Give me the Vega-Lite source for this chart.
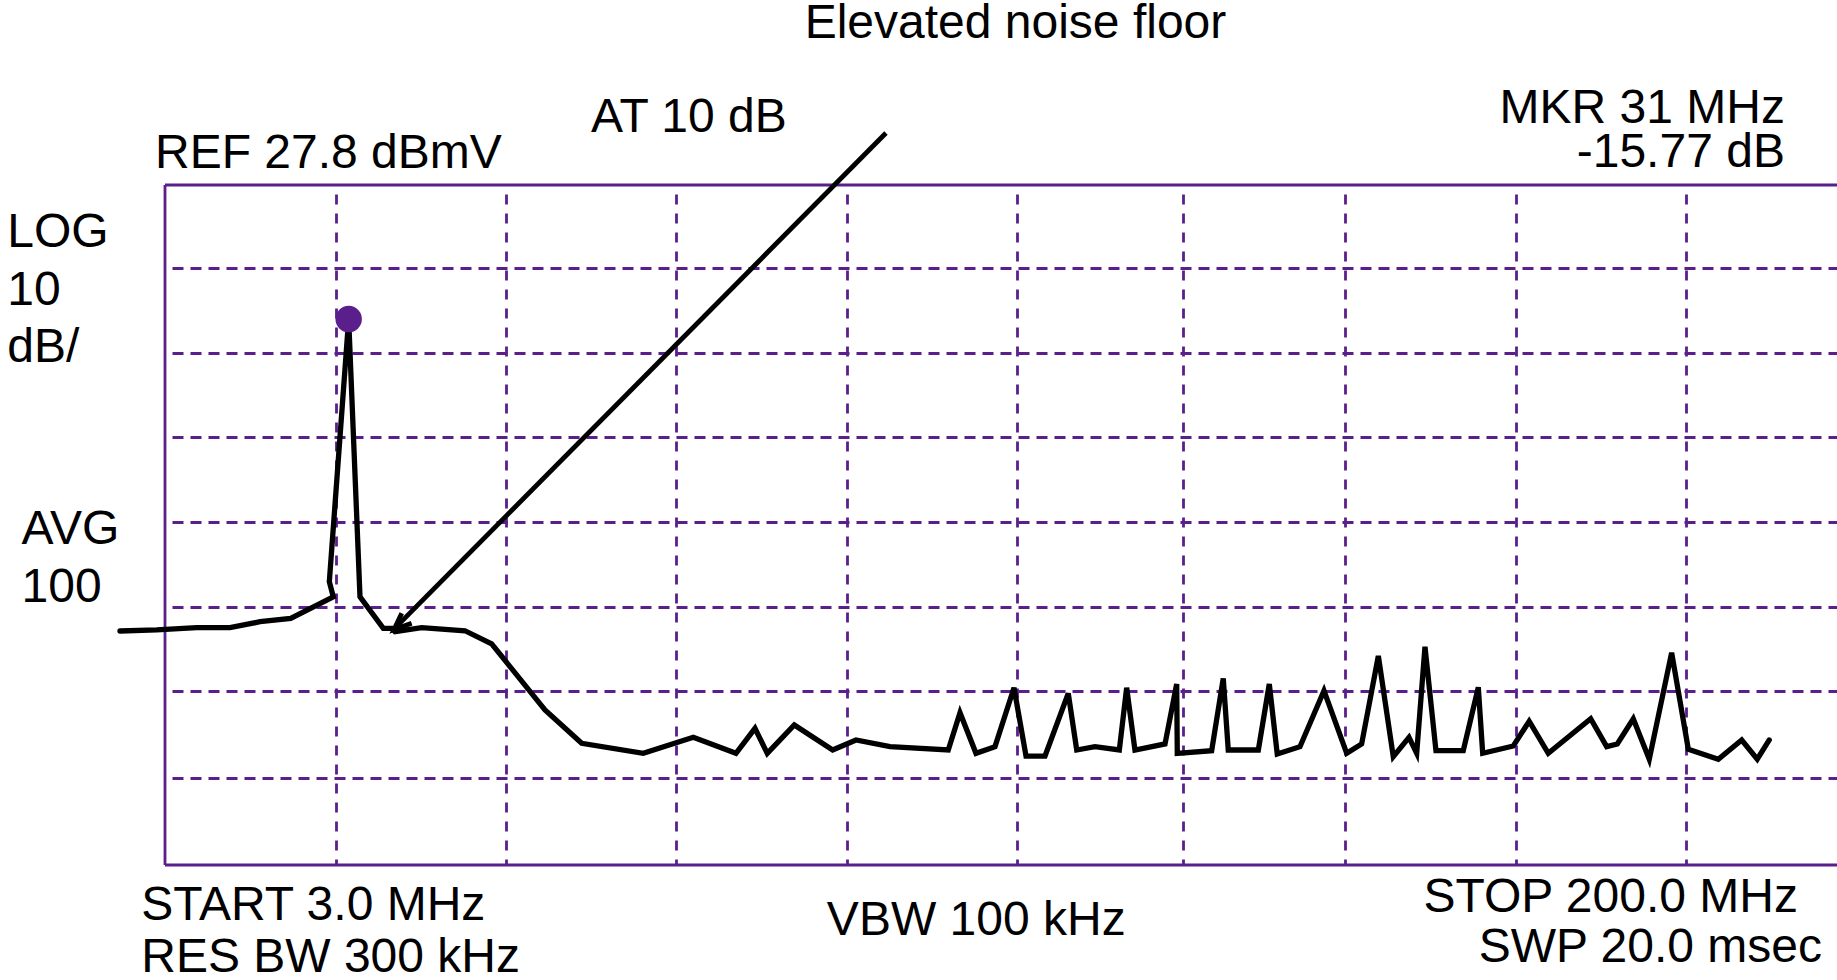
{
  "$schema": "https://vega.github.io/schema/vega-lite/v6.json",
  "width": 1672,
  "height": 680,
  "autosize": {"type": "none"},
  "padding": {"left": 165, "top": 185, "right": 0, "bottom": 115},
  "background": "white",
  "config": {
    "view": {"stroke": null},
    "font": "Liberation Sans",
    "axisX": {"grid": true, "gridColor": "#5b1f8c", "gridDash": [10, 9], "gridDashOffset": 10, "gridWidth": 2.8,
              "domain": false, "ticks": false, "labels": false, "title": null},
    "axisY": {"grid": true, "gridColor": "#5b1f8c", "gridDash": [11, 7], "gridDashOffset": 11, "gridWidth": 2.8,
              "domain": false, "ticks": false, "labels": false, "title": null}
  },
  "datasets": {
    "trace": [
      {"i": 1, "f": -2.21, "db": -24.67},
      {"i": 2, "f": 2.04, "db": -24.55},
      {"i": 3, "f": 6.67, "db": -24.28},
      {"i": 4, "f": 10.52, "db": -24.28},
      {"i": 5, "f": 14.0, "db": -23.58},
      {"i": 6, "f": 17.55, "db": -23.18},
      {"i": 7, "f": 22.48, "db": -20.64},
      {"i": 8, "f": 22.02, "db": -18.87},
      {"i": 9, "f": 24.26, "db": 12.03},
      {"i": 10, "f": 25.57, "db": -20.64},
      {"i": 11, "f": 28.27, "db": -24.35},
      {"i": 12, "f": 29.24, "db": -24.35},
      {"i": 13, "f": 29.62, "db": -24.75},
      {"i": 14, "f": 32.71, "db": -24.28},
      {"i": 15, "f": 37.72, "db": -24.64},
      {"i": 16, "f": 40.81, "db": -26.18},
      {"i": 17, "f": 46.98, "db": -33.96},
      {"i": 18, "f": 51.23, "db": -37.88},
      {"i": 19, "f": 58.36, "db": -39.06},
      {"i": 20, "f": 64.15, "db": -37.18},
      {"i": 21, "f": 69.09, "db": -39.06},
      {"i": 22, "f": 71.29, "db": -36.12},
      {"i": 23, "f": 72.71, "db": -39.06},
      {"i": 24, "f": 75.84, "db": -35.73},
      {"i": 25, "f": 80.28, "db": -38.67},
      {"i": 26, "f": 82.98, "db": -37.49},
      {"i": 27, "f": 86.92, "db": -38.28},
      {"i": 28, "f": 93.66, "db": -38.67},
      {"i": 29, "f": 95.02, "db": -34.28},
      {"i": 30, "f": 96.87, "db": -39.06},
      {"i": 31, "f": 99.07, "db": -38.28},
      {"i": 32, "f": 101.27, "db": -31.34},
      {"i": 33, "f": 102.66, "db": -39.38},
      {"i": 34, "f": 104.86, "db": -39.38},
      {"i": 35, "f": 107.55, "db": -32.0},
      {"i": 36, "f": 108.53, "db": -38.67},
      {"i": 37, "f": 110.64, "db": -38.28},
      {"i": 38, "f": 113.46, "db": -38.67},
      {"i": 39, "f": 114.31, "db": -31.34},
      {"i": 40, "f": 115.27, "db": -38.67},
      {"i": 41, "f": 118.75, "db": -37.96},
      {"i": 42, "f": 120.10, "db": -30.91},
      {"i": 43, "f": 120.17, "db": -39.06},
      {"i": 44, "f": 124.15, "db": -38.75},
      {"i": 45, "f": 125.49, "db": -30.24},
      {"i": 46, "f": 126.07, "db": -38.67},
      {"i": 47, "f": 129.55, "db": -38.67},
      {"i": 48, "f": 130.82, "db": -30.91},
      {"i": 49, "f": 131.74, "db": -39.14},
      {"i": 50, "f": 134.37, "db": -38.28},
      {"i": 51, "f": 137.15, "db": -31.69},
      {"i": 52, "f": 139.78, "db": -39.06},
      {"i": 53, "f": 141.51, "db": -37.96},
      {"i": 54, "f": 143.44, "db": -27.61},
      {"i": 55, "f": 145.17, "db": -39.46},
      {"i": 56, "f": 146.99, "db": -37.18},
      {"i": 57, "f": 147.88, "db": -39.06},
      {"i": 58, "f": 148.84, "db": -26.52},
      {"i": 59, "f": 150.11, "db": -38.75},
      {"i": 60, "f": 153.27, "db": -38.75},
      {"i": 61, "f": 155.01, "db": -31.29},
      {"i": 62, "f": 155.52, "db": -39.06},
      {"i": 63, "f": 159.06, "db": -38.2},
      {"i": 64, "f": 160.90, "db": -35.29},
      {"i": 65, "f": 163.11, "db": -39.06},
      {"i": 66, "f": 168.02, "db": -34.99},
      {"i": 67, "f": 169.87, "db": -38.28},
      {"i": 68, "f": 171.10, "db": -37.96},
      {"i": 69, "f": 172.95, "db": -34.99},
      {"i": 70, "f": 174.80, "db": -39.76},
      {"i": 71, "f": 177.39, "db": -27.22},
      {"i": 72, "f": 179.32, "db": -38.59},
      {"i": 73, "f": 182.79, "db": -39.76},
      {"i": 74, "f": 185.50, "db": -37.49},
      {"i": 75, "f": 187.30, "db": -39.76},
      {"i": 76, "f": 188.69, "db": -37.49}
    ],
    "arrow": [
      {"seg": "shaft", "i": 1, "f": 86.45, "db": 33.92},
      {"seg": "shaft", "i": 2, "f": 29.7, "db": -24.25},
      {"seg": "head", "i": 1, "f": 30.40, "db": -22.59},
      {"seg": "head", "i": 2, "f": 29.51, "db": -24.49},
      {"seg": "head", "i": 3, "f": 31.55, "db": -23.76}
    ],
    "marker": [{"f": 24.26, "db": 12.03}],
    "vborder": [{"f": 3}],
    "hborder": [{"db": 27.8}, {"db": -52.2}],
    "textLeft": [
      {"label": "AT 10 dB", "f": 52.31, "db": 34.07},
      {"label": "REF 27.8 dBmV", "f": 1.84, "db": 29.76},
      {"label": "LOG", "f": -15.26, "db": 20.54},
      {"label": "10", "f": -15.26, "db": 13.68},
      {"label": "dB/", "f": -15.26, "db": 7.01},
      {"label": "AVG", "f": -13.6, "db": -14.38},
      {"label": "100", "f": -13.6, "db": -21.21},
      {"label": "START 3.0 MHz", "f": 0.25, "db": -58.65},
      {"label": "RES BW 300 kHz", "f": 0.25, "db": -64.74}
    ],
    "textCenter": [
      {"label": "Elevated noise floor", "f": 101.44, "db": 45.04},
      {"label": "VBW 100 kHz", "f": 96.9, "db": -60.39}
    ],
    "textRight": [
      {"label": "MKR 31 MHz", "f": 190.5, "db": 35.13},
      {"label": "-15.77 dB", "f": 190.5, "db": 29.95},
      {"label": "STOP 200.0 MHz", "f": 192.01, "db": -57.78},
      {"label": "SWP 20.0 msec", "f": 194.79, "db": -63.65}
    ]
  },
  "layer": [
    {
      "data": {"name": "vborder"},
      "mark": {"type": "rule", "color": "#5b1f8c", "strokeWidth": 2.8},
      "encoding": {
        "x": {"field": "f", "type": "quantitative", "scale": {"domain": [3, 196.53], "nice": false, "zero": false},
              "axis": {"values": [22.79, 42.50, 62.18, 81.90, 101.61, 120.86, 139.61, 159.33, 179.04]}}
      }
    },
    {
      "data": {"name": "hborder"},
      "mark": {"type": "rule", "color": "#5b1f8c", "strokeWidth": 2.8},
      "encoding": {
        "y": {"field": "db", "type": "quantitative", "scale": {"domain": [-52.2, 27.8], "nice": false, "zero": false},
              "axis": {"values": [18.04, 8.09, -1.88, -11.81, -21.79, -31.73, -42.0]}}
      }
    },
    {
      "data": {"name": "trace"},
      "mark": {"type": "line", "color": "black", "strokeWidth": 5.3, "strokeCap": "round", "strokeJoin": "miter"},
      "encoding": {
        "x": {"field": "f", "type": "quantitative", "scale": {"domain": [3, 196.53], "nice": false, "zero": false},
              "axis": {"values": [22.79, 42.50, 62.18, 81.90, 101.61, 120.86, 139.61, 159.33, 179.04]}},
        "y": {"field": "db", "type": "quantitative", "scale": {"domain": [-52.2, 27.8], "nice": false, "zero": false},
              "axis": {"values": [18.04, 8.09, -1.88, -11.81, -21.79, -31.73, -42.0]}},
        "order": {"field": "i", "type": "quantitative"}
      }
    },
    {
      "data": {"name": "arrow"},
      "mark": {"type": "line", "color": "black", "strokeWidth": 4.8, "strokeJoin": "miter"},
      "encoding": {
        "x": {"field": "f", "type": "quantitative", "scale": {"domain": [3, 196.53], "nice": false, "zero": false},
              "axis": {"values": [22.79, 42.50, 62.18, 81.90, 101.61, 120.86, 139.61, 159.33, 179.04]}},
        "y": {"field": "db", "type": "quantitative", "scale": {"domain": [-52.2, 27.8], "nice": false, "zero": false},
              "axis": {"values": [18.04, 8.09, -1.88, -11.81, -21.79, -31.73, -42.0]}},
        "detail": {"field": "seg", "type": "nominal"},
        "order": {"field": "i", "type": "quantitative"}
      }
    },
    {
      "data": {"name": "marker"},
      "mark": {"type": "point", "shape": "circle", "filled": true, "color": "#5b1f8c", "opacity": 1, "size": 700},
      "encoding": {
        "x": {"field": "f", "type": "quantitative", "scale": {"domain": [3, 196.53], "nice": false, "zero": false},
              "axis": {"values": [22.79, 42.50, 62.18, 81.90, 101.61, 120.86, 139.61, 159.33, 179.04]}},
        "y": {"field": "db", "type": "quantitative", "scale": {"domain": [-52.2, 27.8], "nice": false, "zero": false},
              "axis": {"values": [18.04, 8.09, -1.88, -11.81, -21.79, -31.73, -42.0]}}
      }
    },
    {
      "data": {"name": "textLeft"},
      "mark": {"type": "text", "align": "left", "baseline": "alphabetic", "fontSize": 48, "font": "Liberation Sans", "color": "black"},
      "encoding": {
        "x": {"field": "f", "type": "quantitative", "scale": {"domain": [3, 196.53], "nice": false, "zero": false},
              "axis": {"values": [22.79, 42.50, 62.18, 81.90, 101.61, 120.86, 139.61, 159.33, 179.04]}},
        "y": {"field": "db", "type": "quantitative", "scale": {"domain": [-52.2, 27.8], "nice": false, "zero": false},
              "axis": {"values": [18.04, 8.09, -1.88, -11.81, -21.79, -31.73, -42.0]}},
        "text": {"field": "label", "type": "nominal"}
      }
    },
    {
      "data": {"name": "textCenter"},
      "mark": {"type": "text", "align": "center", "baseline": "alphabetic", "fontSize": 48, "font": "Liberation Sans", "color": "black"},
      "encoding": {
        "x": {"field": "f", "type": "quantitative", "scale": {"domain": [3, 196.53], "nice": false, "zero": false},
              "axis": {"values": [22.79, 42.50, 62.18, 81.90, 101.61, 120.86, 139.61, 159.33, 179.04]}},
        "y": {"field": "db", "type": "quantitative", "scale": {"domain": [-52.2, 27.8], "nice": false, "zero": false},
              "axis": {"values": [18.04, 8.09, -1.88, -11.81, -21.79, -31.73, -42.0]}},
        "text": {"field": "label", "type": "nominal"}
      }
    },
    {
      "data": {"name": "textRight"},
      "mark": {"type": "text", "align": "right", "baseline": "alphabetic", "fontSize": 48, "font": "Liberation Sans", "color": "black"},
      "encoding": {
        "x": {"field": "f", "type": "quantitative", "scale": {"domain": [3, 196.53], "nice": false, "zero": false},
              "axis": {"values": [22.79, 42.50, 62.18, 81.90, 101.61, 120.86, 139.61, 159.33, 179.04]}},
        "y": {"field": "db", "type": "quantitative", "scale": {"domain": [-52.2, 27.8], "nice": false, "zero": false},
              "axis": {"values": [18.04, 8.09, -1.88, -11.81, -21.79, -31.73, -42.0]}},
        "text": {"field": "label", "type": "nominal"}
      }
    }
  ]
}
